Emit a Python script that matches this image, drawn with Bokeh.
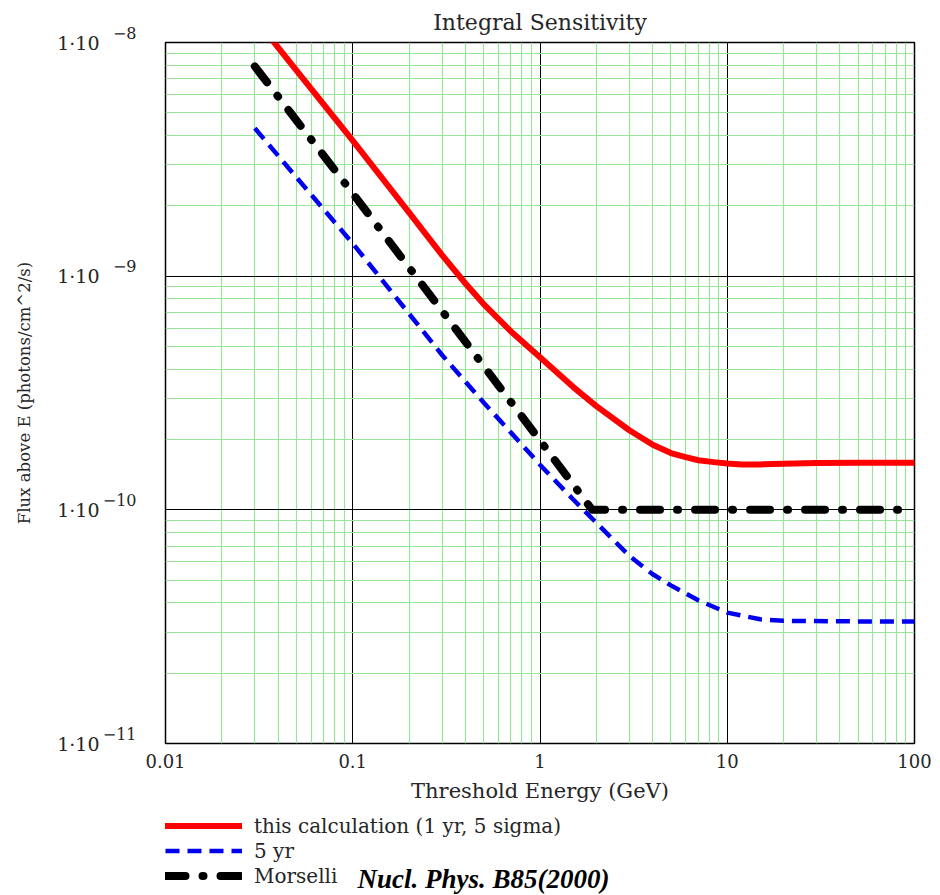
from bokeh.plotting import figure
from bokeh.models import FixedTicker, Label, Legend, LegendItem, LogAxis, Range1d
from bokeh.layouts import column
from bokeh.embed import file_html
from bokeh.resources import INLINE

# Integral flux sensitivity above threshold energy (photons/cm^2/s) vs threshold (GeV)
energy_1yr = [0.03, 0.05, 0.1, 0.2, 0.3, 0.4, 0.5, 0.7, 1.0, 1.5, 2.0, 3.0, 4.0, 5.0,
              6.0, 7.0, 8.5, 10.0, 12.0, 15.0, 20.0, 30.0, 50.0, 100.0]
flux_1yr = [1.27e-8, 7.6e-9, 3.8e-9, 1.87e-9, 1.23e-9, 9.3e-10, 7.6e-10, 5.8e-10, 4.5e-10,
            3.36e-10, 2.78e-10, 2.19e-10, 1.9e-10, 1.75e-10, 1.68e-10, 1.63e-10, 1.6e-10,
            1.58e-10, 1.565e-10, 1.565e-10, 1.575e-10, 1.585e-10, 1.59e-10, 1.59e-10]

energy_5yr = [0.03, 0.05, 0.1, 0.2, 0.3, 0.5, 0.7, 1.0, 1.5, 2.0, 3.0, 4.0, 5.0, 7.0,
              10.0, 15.0, 20.0, 50.0, 100.0]
flux_5yr = [4.3e-9, 2.65e-9, 1.38e-9, 6.9e-10, 4.6e-10, 2.88e-10, 2.14e-10, 1.56e-10,
            1.11e-10, 8.8e-11, 6.35e-11, 5.3e-11, 4.75e-11, 4.1e-11, 3.63e-11, 3.4e-11,
            3.35e-11, 3.33e-11, 3.33e-11]

energy_morselli = [0.03, 0.1, 0.3, 1.0, 1.9, 100.0]
flux_morselli = [7.9e-9, 2.26e-9, 7.1e-10, 1.98e-10, 1.0e-10, 1.0e-10]

x_ticks = [0.01, 0.1, 1.0, 10.0, 100.0]
x_tick_labels = ["0.01", "0.1", "1", "10", "100"]
y_ticks = [1e-8, 1e-9, 1e-10, 1e-11]
y_tick_mantissa = "1\u00b710"
y_tick_exponents = ["\u22128", "\u22129", "\u221210", "\u221211"]

legend_labels = ["this calculation (1 yr, 5 sigma)", "5 yr", "Morselli"]
reference_note = "Nucl. Phys. B85(2000)"

SERIF = "DejaVu Serif"
TEXT = "#262626"
GRID_GREEN = "#98e498"

style_1yr = dict(line_color="#ff0000", line_width=6, line_cap="round", line_join="round")
style_5yr = dict(line_color="#0000ee", line_width=4.5, line_dash="14 8")
style_mor = dict(line_color="black", line_width=8, line_cap="round", line_join="round",
                 line_dash="20 17 1 17")

x_minor = [m * 10.0 ** e for e in range(-2, 2) for m in range(2, 10)]
y_minor = [m * 10.0 ** e for e in range(-11, -8) for m in range(2, 10)]


def bare_axis(axis):
    axis.axis_line_color = None
    axis.major_tick_line_color = None
    axis.minor_tick_line_color = None
    axis.major_tick_out = 0
    axis.major_tick_in = 0
    axis.minor_tick_out = 0
    axis.minor_tick_in = 0


# ---- main log-log panel ----
p = figure(frame_width=749, frame_height=701, x_axis_type="log", y_axis_type="log",
           x_range=Range1d(0.01, 100), y_range=Range1d(1e-11, 1e-8),
           output_backend="svg", toolbar_location=None,
           min_border_left=165, min_border_right=26, min_border_top=42, min_border_bottom=70,
           title="Integral Sensitivity")
p.background_fill_color = "white"
p.border_fill_color = "white"
p.outline_line_color = "black"
p.outline_line_width = 1.5

p.title.align = "center"
p.title.text_font = SERIF
p.title.text_font_size = "22px"
p.title.text_font_style = "normal"
p.title.text_color = TEXT
p.title.standoff = 15

# grid: black decades, green 2..9 subdivisions
for g, majors, minors in ((p.xgrid[0], x_ticks, x_minor), (p.ygrid[0], y_ticks, y_minor)):
    g.ticker = FixedTicker(ticks=majors, minor_ticks=minors)
    g.grid_line_color = "black"
    g.grid_line_width = 1
    g.minor_grid_line_color = GRID_GREEN
    g.minor_grid_line_width = 1.2

xa = p.xaxis[0]
bare_axis(xa)
xa.ticker = FixedTicker(ticks=x_ticks)
xa.major_label_overrides = {t: s for t, s in zip(x_ticks, x_tick_labels)}
xa.major_label_standoff = 10
xa.major_label_text_font = SERIF
xa.major_label_text_font_size = "18px"
xa.major_label_text_color = TEXT
xa.axis_label = "Threshold Energy (GeV)"
xa.axis_label_text_font = SERIF
xa.axis_label_text_font_size = "21px"
xa.axis_label_text_font_style = "normal"
xa.axis_label_text_color = TEXT
xa.axis_label_standoff = 8

# y tick labels: raised exponent column next to the frame, "1·10" column outside it
exp_axis = p.yaxis[0]
bare_axis(exp_axis)
exp_axis.ticker = FixedTicker(ticks=y_ticks)
exp_axis.major_label_overrides = {t: s + "\n\u00a0" for t, s in zip(y_ticks, y_tick_exponents)}
exp_axis.major_label_standoff = 29
exp_axis.major_label_text_font = SERIF
exp_axis.major_label_text_font_size = "16px"
exp_axis.major_label_text_line_height = 1.0
exp_axis.major_label_text_color = TEXT

man_axis = LogAxis(ticker=FixedTicker(ticks=y_ticks),
                   major_label_overrides={t: y_tick_mantissa for t in y_ticks})
bare_axis(man_axis)
man_axis.major_label_standoff = 0
man_axis.major_label_text_font = SERIF
man_axis.major_label_text_font_size = "19px"
man_axis.major_label_text_color = TEXT
man_axis.axis_label = "Flux above E (photons/cm^2/s)"
man_axis.axis_label_text_font = SERIF
man_axis.axis_label_text_font_size = "16.5px"
man_axis.axis_label_text_font_style = "normal"
man_axis.axis_label_text_color = TEXT
man_axis.axis_label_standoff = 20
p.add_layout(man_axis, "left")

p.line(energy_1yr, flux_1yr, **style_1yr)
p.line(energy_5yr, flux_5yr, **style_5yr)
p.line(energy_morselli, flux_morselli, **style_mor)

# ---- key strip below the panel ----
# pixel-like linear ranges; the series themselves fall far below this view,
# they only supply the legend swatches
key = figure(frame_width=749, frame_height=82, x_range=Range1d(0, 749), y_range=Range1d(100, 182),
             output_backend="svg", toolbar_location=None,
             x_axis_location=None, y_axis_location=None,
             min_border_left=165, min_border_right=26, min_border_top=0, min_border_bottom=0)
key.grid.visible = False
key.outline_line_color = None
key.background_fill_color = "white"
key.border_fill_color = "white"

key_renderers = [key.line(e, f, **s) for e, f, s in
                 ((energy_1yr, flux_1yr, style_1yr),
                  (energy_5yr, flux_5yr, style_5yr),
                  (energy_morselli, flux_morselli, style_mor))]
legend = Legend(items=[LegendItem(label=lab, renderers=[r])
                       for lab, r in zip(legend_labels, key_renderers)],
                location=(0, 7), orientation="vertical",
                glyph_width=77, glyph_height=25, label_height=25, label_standoff=12,
                spacing=0, padding=0, margin=0, border_line_color=None,
                background_fill_alpha=0, label_text_font=SERIF,
                label_text_font_size="20px", label_text_color=TEXT)
key.add_layout(legend)

key.add_layout(Label(x=192, y=117, text=reference_note, text_baseline="middle",
                     text_font="Liberation Serif", text_font_style="bold italic",
                     text_font_size="27px", text_color="black"))

layout = column(p, key, spacing=0)
open("out.html", "w").write(file_html(layout, INLINE))
